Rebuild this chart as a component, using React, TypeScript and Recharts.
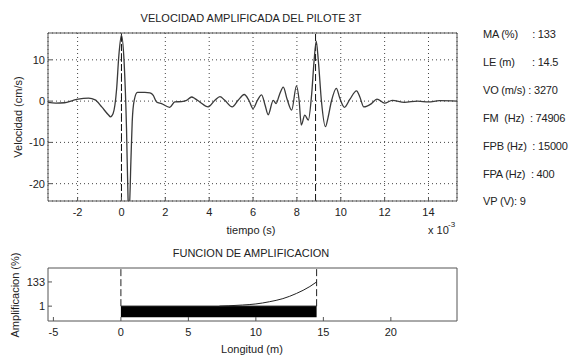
import {
  Area,
  CartesianGrid,
  ComposedChart,
  Line,
  ReferenceLine,
  XAxis,
  YAxis,
} from "recharts";

// Señal de velocidad amplificada (tiempo en ms, x 10^-3 s)
const tiempo = [
  -3.35, -3.0, -2.6, -2.2, -1.97, -1.5, -1.2, -0.9, -0.6, -0.5, -0.38, -0.22, -0.12, 0.0, 0.12,
  0.23, 0.3, 0.35, 0.43, 0.49, 0.58, 0.73, 1.07, 1.3, 1.45, 1.6, 1.83, 2.2, 2.43, 2.74, 2.97, 3.2,
  3.35, 3.57, 3.95, 4.26, 4.49, 4.71, 5.05, 5.32, 5.6, 5.81, 6.0, 6.2, 6.39, 6.55, 6.69, 6.92, 7.05,
  7.2, 7.38, 7.55, 7.76, 7.98, 8.1, 8.2, 8.36, 8.52, 8.67, 8.78, 8.88, 8.98, 9.12, 9.3, 9.42, 9.57,
  9.8, 9.95, 10.17, 10.41, 10.72, 10.87, 11.05, 11.4, 11.65, 12.0, 12.35, 12.9, 13.5, 14.0, 14.5, 15.3,
];
const velocidad = [
  -0.3, -0.5, -0.4, 0.2, 0.5, 0.7, 0.3, -1.4, -3.3, -3.8, -3.0, 3.0, 11, 16, 9.5,
  -6.6, -23.5, -27, -14.6, -5, 0.2, 2.1, 2.1, 2.0, 1.4, -0.2, -0.6, -1.5, -0.2, -0.1, 0.2, 1.0,
  0.6, -0.2, -1.4, 0.2, 1.1, 0.2, -1.4, 0.2, 1.6, 0.2, -1.8, 0.2, 1.5, -1.0, -3.3, 0.2, -0.6,
  1.5, 3.4, 0.5, -2.2, 3.7, 0.2, -5.8, -3.4, -4.6, 1.5, 9.5, 14.5, 9.6, -0.1, -6.2, -4.0, -0.1,
  3.1, 0.8, -1.5, 0.4, 2.5, 1.0, -1.4, -0.6, 0.5, -0.5, 0.2, -0.3, 0.0, -0.2, 0.1, 0.0,
];
const tiempoTicks = [-2, 0, 2, 4, 6, 8, 10, 12, 14];
const velocidadTicks = [-20, -10, 0, 10];
const marcasTiempo = [0, 8.85];

// Función de amplificación a lo largo del pilote
const longitud = [7.3, 8, 9, 10, 11, 12, 13, 14, 14.5];
const amplificacion = [1, 3, 7, 13, 25, 42, 70, 108, 133];
const pilote = [0, 14.5];
const piloteNivel = 1;
const piloteBase = -60;
const longitudTicks = [-5, 0, 5, 10, 15, 20];
const amplificacionTicks = [1, 133];

const parametros = [
  "MA (%)     : 133",
  "LE (m)      : 14.5",
  "VO (m/s) : 3270",
  "FM  (Hz)  : 74906",
  "FPB (Hz)  : 15000",
  "FPA (Hz)  : 400",
  "VP (V): 9",
];

const FONT = "'Liberation Sans', Arial, sans-serif";
const AXIS = "#555";
const TICK = { fill: "#222", fontSize: 11, fontFamily: FONT };

const T_DOMAIN: [number, number] = [-3.35, 15.3];
const V_DOMAIN: [number, number] = [-24.2, 16.5];
const L_DOMAIN: [number, number] = [-5.4, 24.9];
const A_DOMAIN: [number, number] = [-80, 209];

export default function App() {
  const velData = tiempo.map((t, i) => ({ t, v: velocidad[i] }));
  const ampData = longitud.map((x, i) => ({ x, a: amplificacion[i] }));
  const piloteData = pilote.map((x) => ({ x, p: piloteNivel }));

  return (
    <div
      style={{
        position: "fixed",
        left: 0,
        top: 0,
        width: 572,
        height: 356,
        background: "#fff",
        overflow: "hidden",
        fontFamily: FONT,
      }}
    >
      <div style={{ position: "absolute", left: 0, top: 0 }}>
        <ComposedChart
          width={572}
          height={235}
          data={velData}
          margin={{ top: 32, right: 114, left: 18, bottom: 14 }}
        >
          <CartesianGrid xAxisId="main" yAxisId="main" stroke="#444" strokeDasharray="1 3" />
          <XAxis
            xAxisId="main"
            dataKey="t"
            type="number"
            domain={T_DOMAIN}
            ticks={tiempoTicks}
            allowDataOverflow
            height={20}
            tickSize={-4}
            tickMargin={11}
            stroke={AXIS}
            tick={TICK}
          />
          <XAxis
            xAxisId="top"
            dataKey="t"
            orientation="top"
            type="number"
            domain={T_DOMAIN}
            ticks={tiempoTicks}
            allowDataOverflow
            height={1}
            tickSize={-4}
            tick={false}
            stroke={AXIS}
          />
          <YAxis
            yAxisId="main"
            type="number"
            domain={V_DOMAIN}
            ticks={velocidadTicks}
            allowDataOverflow
            width={30}
            tickSize={-4}
            tickMargin={7}
            stroke={AXIS}
            tick={TICK}
          />
          <YAxis
            yAxisId="right"
            orientation="right"
            type="number"
            domain={V_DOMAIN}
            ticks={velocidadTicks}
            allowDataOverflow
            width={1}
            tickSize={-4}
            tick={false}
            stroke={AXIS}
          />
          {marcasTiempo.map((m) => (
            <ReferenceLine
              key={m}
              xAxisId="main"
              yAxisId="main"
              x={m}
              stroke="#111"
              strokeDasharray="7 3"
            />
          ))}
          {/* invisible series so the mirrored box axes are drawn */}
          <Line
            xAxisId="top"
            yAxisId="right"
            dataKey="v"
            stroke="none"
            dot={false}
            activeDot={false}
            isAnimationActive={false}
          />
          <Line
            xAxisId="main"
            yAxisId="main"
            dataKey="v"
            type="monotone"
            dot={false}
            stroke="#3a3a3a"
            strokeWidth={1.3}
            isAnimationActive={false}
          />
        </ComposedChart>
      </div>

      <div style={{ position: "absolute", left: 0, top: 240 }}>
        <ComposedChart
          width={572}
          height={116}
          margin={{ top: 27, right: 114, left: 18, bottom: 15 }}
        >
          <XAxis
            xAxisId="main"
            dataKey="x"
            type="number"
            domain={L_DOMAIN}
            ticks={longitudTicks}
            allowDataOverflow
            height={20}
            tickSize={-4}
            tickMargin={11}
            stroke={AXIS}
            tick={TICK}
          />
          <XAxis
            xAxisId="top"
            dataKey="x"
            orientation="top"
            type="number"
            domain={L_DOMAIN}
            ticks={longitudTicks}
            allowDataOverflow
            height={1}
            tickSize={-4}
            tick={false}
            stroke={AXIS}
          />
          <YAxis
            yAxisId="main"
            type="number"
            domain={A_DOMAIN}
            ticks={amplificacionTicks}
            allowDataOverflow
            width={30}
            tickSize={-4}
            tickMargin={7}
            stroke={AXIS}
            tick={TICK}
          />
          <YAxis
            yAxisId="right"
            orientation="right"
            type="number"
            domain={A_DOMAIN}
            ticks={amplificacionTicks}
            allowDataOverflow
            width={1}
            tickSize={-4}
            tick={false}
            stroke={AXIS}
          />
          <Area
            xAxisId="main"
            yAxisId="main"
            data={piloteData}
            dataKey="p"
            type="linear"
            baseValue={piloteBase}
            fill="#000"
            fillOpacity={1}
            stroke="#000"
            isAnimationActive={false}
          />
          {pilote.map((m) => (
            <ReferenceLine
              key={m}
              xAxisId="main"
              yAxisId="main"
              segment={[
                { x: m, y: piloteNivel },
                { x: m, y: A_DOMAIN[1] },
              ]}
              stroke="#222"
              strokeDasharray="7 3"
            />
          ))}
          {/* invisible series so the mirrored box axes are drawn */}
          <Line
            xAxisId="top"
            yAxisId="right"
            data={ampData}
            dataKey="a"
            stroke="none"
            dot={false}
            activeDot={false}
            isAnimationActive={false}
          />
          <Line
            xAxisId="main"
            yAxisId="main"
            data={ampData}
            dataKey="a"
            type="monotone"
            dot={false}
            stroke="#222"
            strokeWidth={1}
            isAnimationActive={false}
          />
        </ComposedChart>
      </div>

      <svg
        width={572}
        height={356}
        style={{ position: "absolute", left: 0, top: 0, pointerEvents: "none" }}
        fontFamily={FONT}
        fontSize={11}
        fill="#222"
      >
        <text x={251} y={22} textAnchor="middle">
          VELOCIDAD AMPLIFICADA DEL PILOTE 3T
        </text>
        <text transform="translate(22,117) rotate(-90)" textAnchor="middle">
          Velocidad (cm/s)
        </text>
        <text x={251} y={234} textAnchor="middle">
          tiempo (s)
        </text>
        <text x={428} y={234}>
          x 10
        </text>
        <text x={448} y={227} fontSize={8}>
          -3
        </text>
        <text x={251} y={257} textAnchor="middle">
          FUNCION DE AMPLIFICACION
        </text>
        <text transform="translate(19,295) rotate(-90)" textAnchor="middle">
          Amplificacion (%)
        </text>
        <text x={252} y={353} textAnchor="middle">
          Longitud (m)
        </text>
        {parametros.map((p, i) => (
          <text
            key={p}
            x={483}
            y={38 + i * 27.9}
            letterSpacing={-0.2}
            style={{ whiteSpace: "pre" }}
          >
            {p}
          </text>
        ))}
      </svg>
    </div>
  );
}
